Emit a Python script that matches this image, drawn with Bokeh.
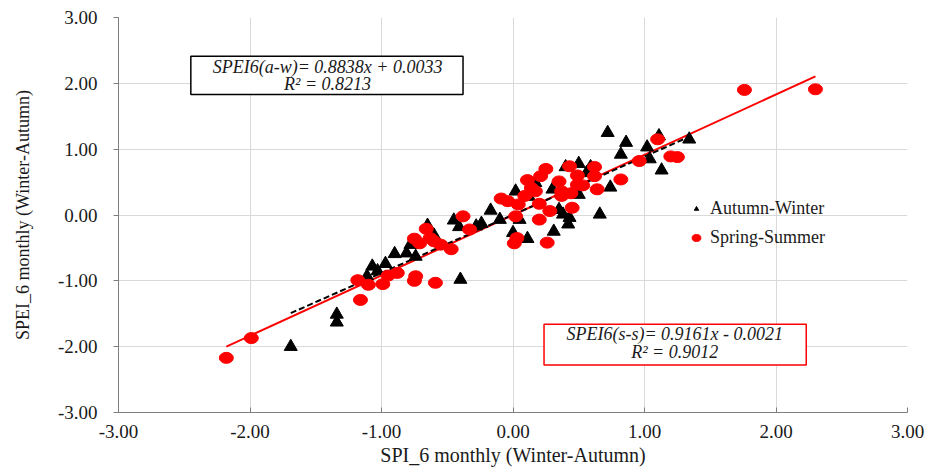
from bokeh.plotting import figure
from bokeh.models import (FixedTicker, PrintfTickFormatter, Label, BoxAnnotation,
                          Legend, LegendItem)
from bokeh.embed import file_html
from bokeh.resources import INLINE

# ---- data ----
aw_x = [-1.69, -1.34, -1.34, -1.11, -1.07, -1.03, -0.97, -0.90, -0.81, -0.74, -0.78,
        -0.65, -0.60, -0.40, -0.45, -0.41, -0.28, -0.24, -0.17, -0.10, 0.02, 0.00,
        0.86, 0.82, 0.74, 0.66, 0.59, 0.56, 0.50, 0.40, 0.50, 0.35, 0.38, 0.43,
        0.42, 0.31, 0.11, 0.05, 0.12, 0.17, 0.30, 1.34, 0.72, 1.02, 1.11, 1.04, 1.13]
aw_y = [-2.00, -1.51, -1.63, -0.93, -0.78, -0.85, -0.74, -0.59, -0.58, -0.63, -0.45,
        -0.16, -0.31, -0.98, -0.08, -0.18, -0.17, -0.13, 0.07, -0.07, 0.36, -0.27,
        1.10, 0.92, 0.42, 0.01, 0.73, 0.64, 0.78, 0.73, 0.31, 0.08, 0.01, -0.04,
        -0.14, -0.25, -0.36, -0.07, 0.28, 0.49, 0.39, 1.15, 1.25, 1.03, 1.20, 0.85, 0.68]

ss_x = [-2.18, -1.99, -1.16, -1.18, -1.10, -0.99, -0.95, -0.88, -0.75, -0.71, -0.66,
        -0.63, -0.60, -0.55, -0.47, -0.74, -0.75, -0.59, -0.38, -0.33, -0.09, -0.04,
        0.01, 0.03, 0.02, 0.04, 0.82, 0.64, 0.62, 0.62, 0.43, 0.49, 0.49, 0.53, 0.35,
        0.37, 0.37, 0.44, 0.45, 0.26, 0.20, 0.28, 0.09, 0.20, 0.11, 0.14, 0.17, 0.21,
        0.25, 1.76, 2.30, 1.10, 0.96, 1.20, 1.25]
ss_y = [-2.17, -1.87, -1.29, -0.99, -1.06, -1.05, -0.92, -0.88, -0.36, -0.43, -0.21,
        -0.35, -0.40, -0.45, -0.52, -0.93, -1.00, -1.03, -0.02, -0.22, 0.25, 0.21,
        -0.43, -0.35, -0.02, 0.16, 0.54, 0.39, 0.73, 0.59, 0.74, 0.60, 0.46, 0.45, 0.51,
        0.36, 0.29, 0.33, 0.11, -0.42, -0.07, 0.06, 0.29, 0.17, 0.53, 0.41, 0.36, 0.59,
        0.70, 1.90, 1.91, 1.15, 0.82, 0.89, 0.88]

aw_slope, aw_icpt, aw_r2 = 0.8838, 0.0033, 0.8213
ss_slope, ss_icpt, ss_r2 = 0.9161, -0.0021, 0.9012

ticks = [-3, -2, -1, 0, 1, 2, 3]
x_title = "SPI_6 monthly (Winter-Autumn)"
y_title = "SPEI_6 monthly (Winter-Autumn)"
series_names = ["Autumn-Winter", "Spring-Summer"]

FONT = "Liberation Serif"
TXT = "#1a1a1a"

p = figure(width=925, height=470, x_range=(-3, 3), y_range=(-3, 3),
           output_backend="svg", toolbar_location=None,
           min_border_left=118, min_border_right=18, min_border_top=17,
           min_border_bottom=58, outline_line_color=None)

# axes
for ax in (p.xaxis[0], p.yaxis[0]):
    ax.ticker = FixedTicker(ticks=ticks)
    ax.formatter = PrintfTickFormatter(format="%.2f")
    ax.minor_tick_line_color = None
    ax.axis_line_color = "#7f7f7f"
    ax.major_tick_line_color = "#7f7f7f"
    ax.major_label_text_font = FONT
    ax.major_label_text_font_size = "19px"
    ax.major_label_text_color = TXT
    ax.axis_label_text_font = FONT
    ax.axis_label_text_font_style = "normal"
    ax.axis_label_text_color = TXT

p.xaxis.axis_label = x_title
p.xaxis.major_tick_in = 5
p.xaxis.major_tick_out = 0
p.xaxis.major_label_standoff = 12
p.xaxis.axis_label_standoff = 3
p.xaxis.axis_label_text_font_size = "20px"

p.yaxis.axis_label = y_title
p.yaxis.major_tick_in = 0
p.yaxis.major_tick_out = 5
p.yaxis.major_label_standoff = 16
p.yaxis.axis_label_standoff = 22
p.yaxis.axis_label_text_font_size = "18px"

p.xgrid.grid_line_color = "#d9d9d9"
p.ygrid.grid_line_color = "#d9d9d9"

# regression lines (fitted equations over each series' x extent)
ax0, ax1 = min(aw_x), max(aw_x)
sx0, sx1 = min(ss_x), max(ss_x)
p.line([sx0, sx1], [ss_slope * sx0 + ss_icpt, ss_slope * sx1 + ss_icpt],
       line_color="#ff0000", line_width=2)
p.line([ax0, ax1], [aw_slope * ax0 + aw_icpt, aw_slope * ax1 + aw_icpt],
       line_color="black", line_width=2, line_dash="6 3")

# points
r_aw = p.scatter(aw_x, aw_y, marker="triangle", size=13, fill_color="black",
                 line_color="black")
r_ss = p.ellipse(ss_x, ss_y, width=14, height=11, width_units="screen",
                 height_units="screen", fill_color="#ff0000", line_color="#ff0000")

legend = Legend(items=[LegendItem(label=series_names[0], renderers=[r_aw]),
                       LegendItem(label=series_names[1], renderers=[r_ss])],
                location=(572, 164), orientation="vertical",
                label_text_font=FONT, label_text_font_size="18px",
                label_text_color=TXT, glyph_width=12, glyph_height=11,
                label_standoff=8, spacing=8, padding=3, margin=0,
                background_fill_alpha=0, border_line_color=None)
p.add_layout(legend, "center")

# equation boxes
p.add_layout(BoxAnnotation(left=-2.45, right=-0.38, top=2.41, bottom=1.83,
                           fill_color="white", fill_alpha=1,
                           line_color="black", line_alpha=1, line_width=1.5))
p.add_layout(Label(x=-1.41, y=2.25, text=f"SPEI6(a-w)= {aw_slope:.4f}x + {aw_icpt:.4f}",
                   text_align="center", text_baseline="middle", text_font=FONT,
                   text_font_style="italic", text_font_size="18px", text_color=TXT))
p.add_layout(Label(x=-1.41, y=1.99, text=f"R² = {aw_r2:.4f}",
                   text_align="center", text_baseline="middle", text_font=FONT,
                   text_font_style="italic", text_font_size="18px", text_color=TXT))

p.add_layout(BoxAnnotation(left=0.236, right=2.23, top=-1.66, bottom=-2.28,
                           fill_color="white", fill_alpha=1,
                           line_color="#ff0000", line_alpha=1, line_width=1.5))
p.add_layout(Label(x=1.23, y=-1.81, text=f"SPEI6(s-s)= {ss_slope:.4f}x - {abs(ss_icpt):.4f}",
                   text_align="center", text_baseline="middle", text_font=FONT,
                   text_font_style="italic", text_font_size="18px", text_color=TXT))
p.add_layout(Label(x=1.23, y=-2.08, text=f"R² = {ss_r2:.4f}",
                   text_align="center", text_baseline="middle", text_font=FONT,
                   text_font_style="italic", text_font_size="18px", text_color=TXT))

open("out.html", "w").write(file_html(p, INLINE))
